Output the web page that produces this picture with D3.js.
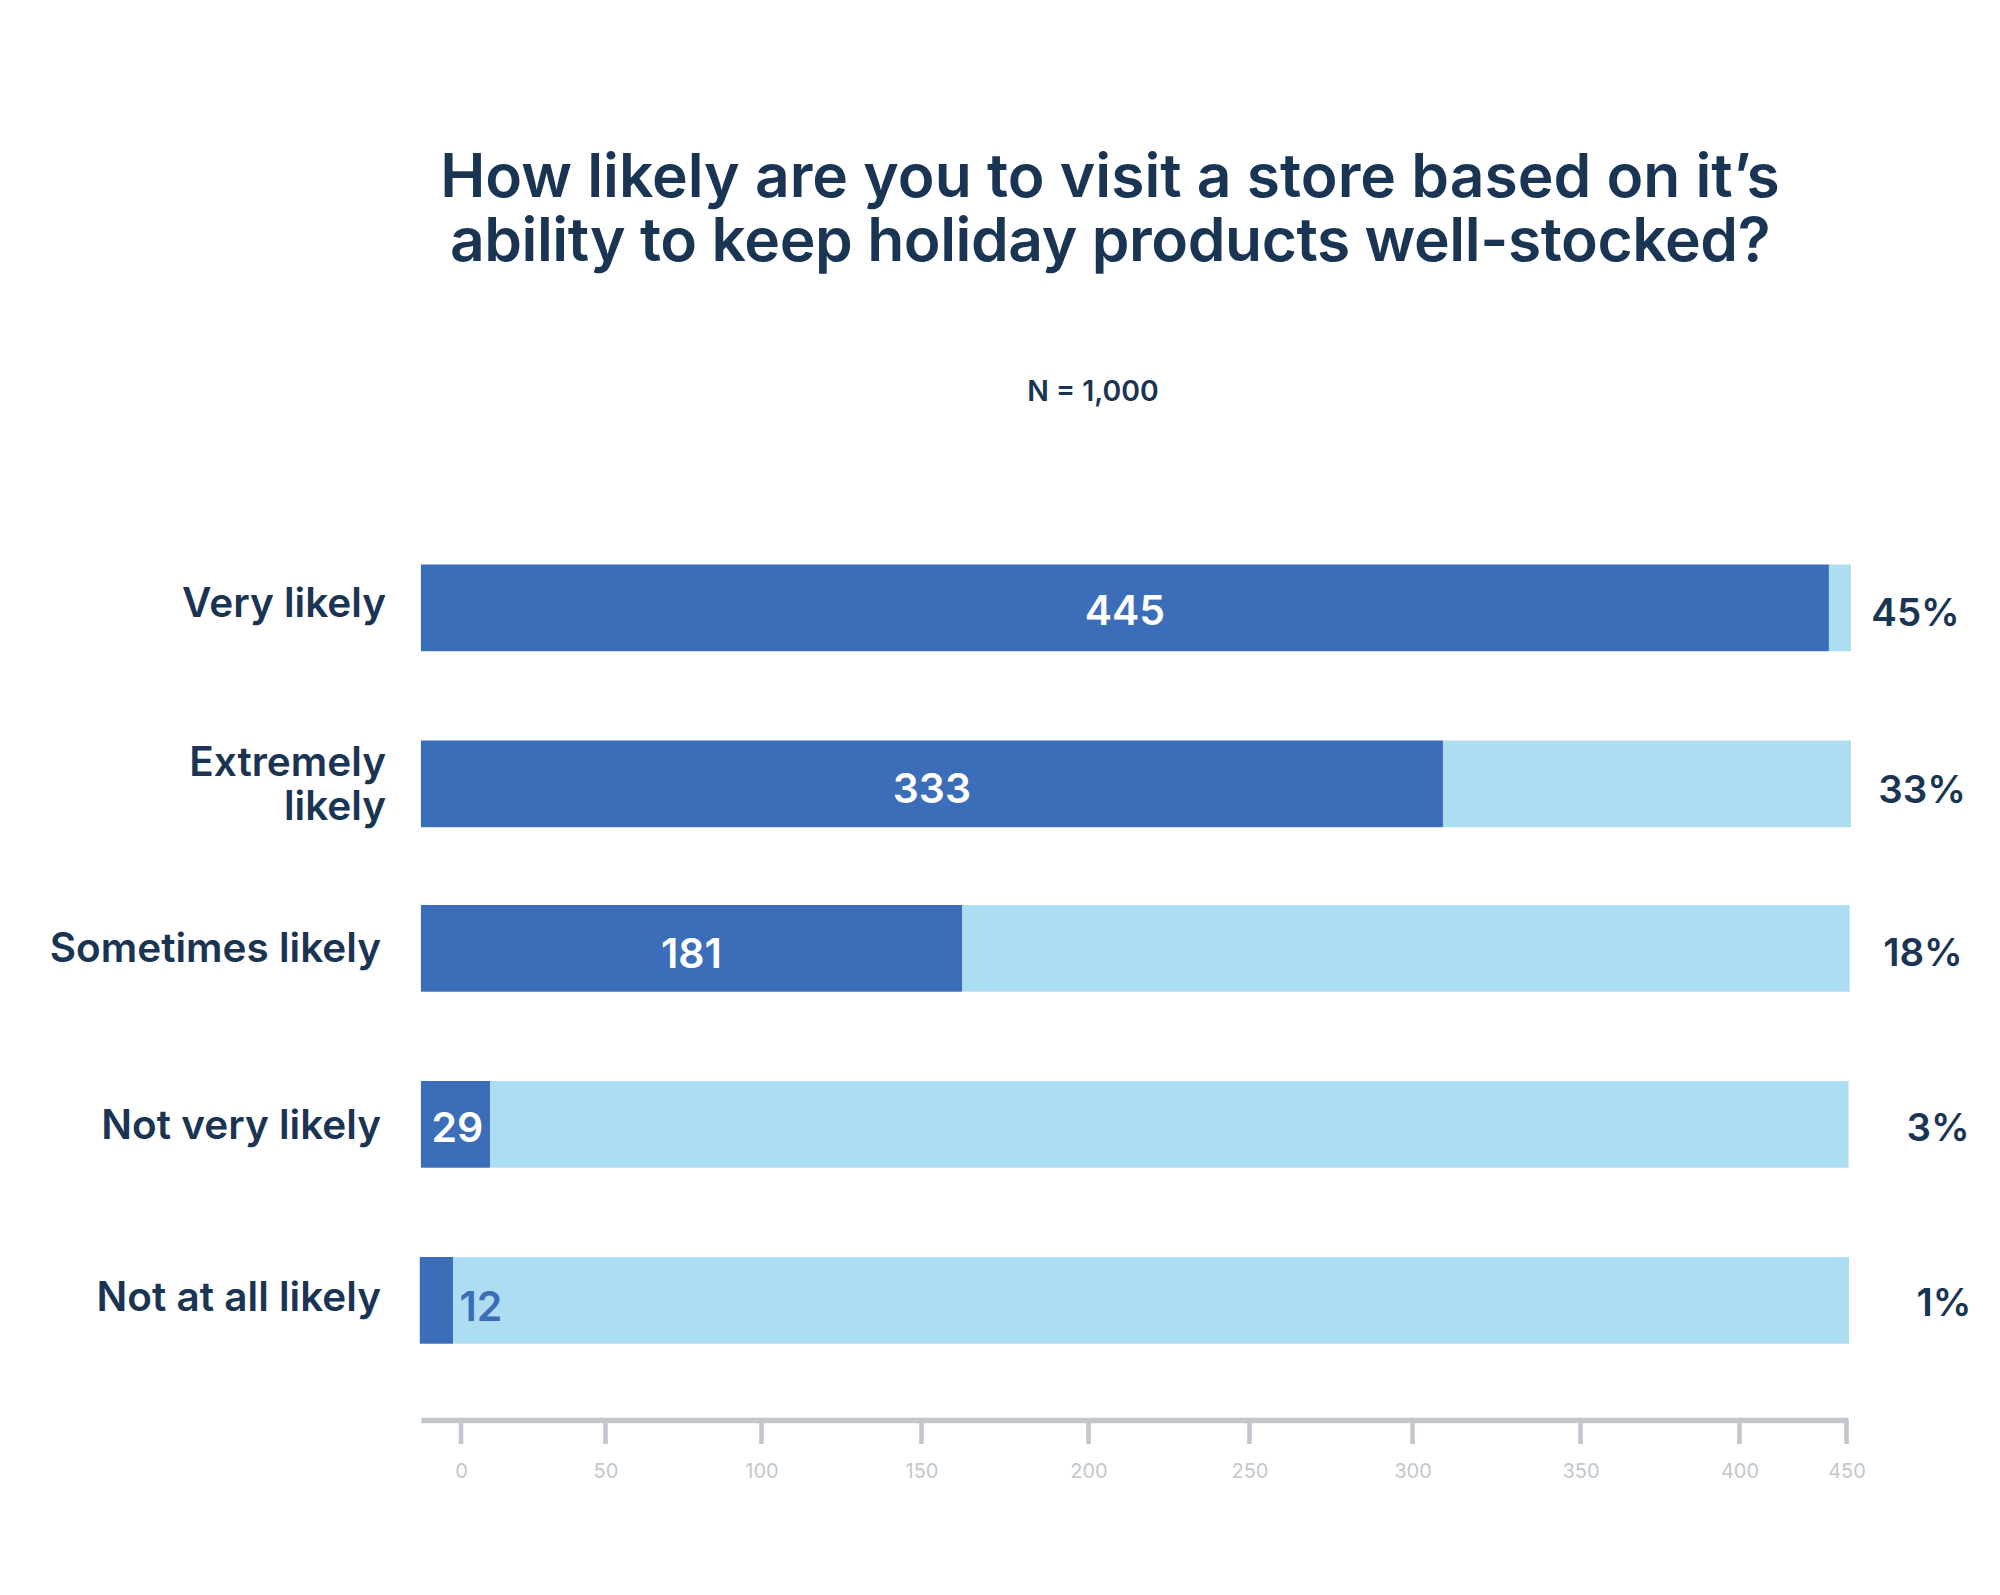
<!DOCTYPE html>
<html><head><meta charset="utf-8">
<script src="https://cdn.jsdelivr.net/npm/d3@7"></script>
<style>html,body{margin:0;padding:0;background:#fff}svg{display:block}text{font-family:"Inter",sans-serif}</style>
</head><body><svg id="c" width="2000" height="1595"></svg>
<script>
// Data
const categories = ["Very likely","Extremely likely","Sometimes likely","Not very likely","Not at all likely"];
const valueLabels = [445,333,181,29,12];
const percents = ["45%","33%","18%","3%","1%"];
// Bar ends as read against the printed (non-uniform) axis
const barStart = [-13.7,-13.7,-13.7,-13.7,-14.1];
const barEnd = [442,309.2,162.3,10.2,-2.6];
const trackEnd = [452.3,452.3,451.7,451.2,451.4];
const tickValues = [0,50,100,150,200,250,300,350,400,450];

// Layout
const W=2000,H=1595;
const tickPixels=[460.5,605,761,921,1088,1249,1412,1580,1739,1846];
const x=d3.scaleLinear().domain(tickValues).range(tickPixels);
const y=d3.scaleOrdinal().domain(categories).range([564.5,740.5,905,1081,1257]);
const barH=86.7;
const catLayout=[{r:386,b:[617]},{r:386,b:[776,820],lines:["Extremely","likely"]},{r:381,b:[962]},{r:381,b:[1139]},{r:381,b:[1311]}];
const valBaseline=[625,803,968,1142,1321];
const pctLayout=[{c:1915.5,b:625.5},{c:1922,b:802.5},{c:1923,b:965.5},{c:1938,b:1140.5},{c:1944,b:1316}];
const navy="#1A3553",dark="#3B6DB9",light="#ADDDF2",axisC="#C1C7CC",tickC="#C2C8CD";

const svg=d3.select("#c");
svg.append("rect").attr("width",W).attr("height",H).attr("fill","#fff");

// Title
const titleLines=["How likely are you to visit a store based on it’s","ability to keep holiday products well-stocked?"];
svg.selectAll("text.title").data(titleLines).join("text").attr("class","title")
 .attr("x",1110).attr("y",(d,i)=>[197,261][i]).attr("text-anchor","middle")
 .attr("letter-spacing",(d,i)=>[0,-0.42][i])
 .attr("font-size",60.5).attr("font-weight",600).attr("fill",navy).text(d=>d);
svg.append("text").attr("x",1093).attr("y",401).attr("text-anchor","middle")
 .attr("font-size",28.4).attr("font-weight",600).attr("fill",navy).text("N = 1,000");

// Bars
const rows=categories.map((c,i)=>({c,i}));
svg.selectAll("rect.track").data(rows).join("rect").attr("class","track")
 .attr("x",d=>x(barEnd[d.i])).attr("y",d=>y(d.c))
 .attr("width",d=>x(trackEnd[d.i])-x(barEnd[d.i])).attr("height",barH).attr("fill",light);
svg.selectAll("rect.bar").data(rows).join("rect").attr("class","bar")
 .attr("x",d=>x(barStart[d.i])).attr("y",d=>y(d.c))
 .attr("width",d=>x(barEnd[d.i])-x(barStart[d.i])).attr("height",barH).attr("fill",dark);

// Value labels: centred in the dark segment, or just outside if it is too small
svg.selectAll("text.val").data(rows).join("text").attr("class","val")
 .attr("x",d=>valueLabels[d.i]<20?x(barEnd[d.i])+28:(x(barStart[d.i])+x(barEnd[d.i]))/2+(valueLabels[d.i]<100?2:0))
 .attr("y",d=>valBaseline[d.i]).attr("text-anchor","middle")
 .attr("font-size",41).attr("font-weight",600)
 .attr("fill",d=>valueLabels[d.i]<20?dark:"#fff").text(d=>valueLabels[d.i]);

// Category labels
rows.forEach(d=>{
 const l=catLayout[d.i];
 (l.lines||[d.c]).forEach((t,j)=>svg.append("text").attr("class","cat")
  .attr("x",l.r).attr("y",l.b[j]).attr("text-anchor","end")
  .attr("font-size",40.5).attr("font-weight",600).attr("fill",navy).text(t));
});

// Percent labels
svg.selectAll("text.pct").data(percents).join("text").attr("class","pct")
 .attr("x",(d,i)=>pctLayout[i].c).attr("y",(d,i)=>pctLayout[i].b).attr("text-anchor","middle")
 .attr("font-size",38.5).attr("font-weight",600).attr("fill",navy).text(d=>d);

// Axis
const axis=d3.axisBottom(x).tickValues(tickValues).tickSize(23.5).tickSizeOuter(0).tickPadding(0).tickFormat(d3.format("d"));
const ag=svg.append("g").attr("transform","translate(0,1420.5)").call(axis);
ag.select(".domain").remove();
ag.selectAll(".tick line").attr("stroke",axisC).attr("stroke-width",4.6);
ag.selectAll(".tick text").attr("y",57.3).attr("dy",0).attr("dx",0.5).attr("font-size",20).attr("font-family",'"Inter",sans-serif').attr("fill",tickC);
svg.append("line").attr("x1",x(-13.5)).attr("x2",x(451.2)).attr("y1",1420.5).attr("y2",1420.5).attr("stroke",axisC).attr("stroke-width",5.4);
</script></body></html>
